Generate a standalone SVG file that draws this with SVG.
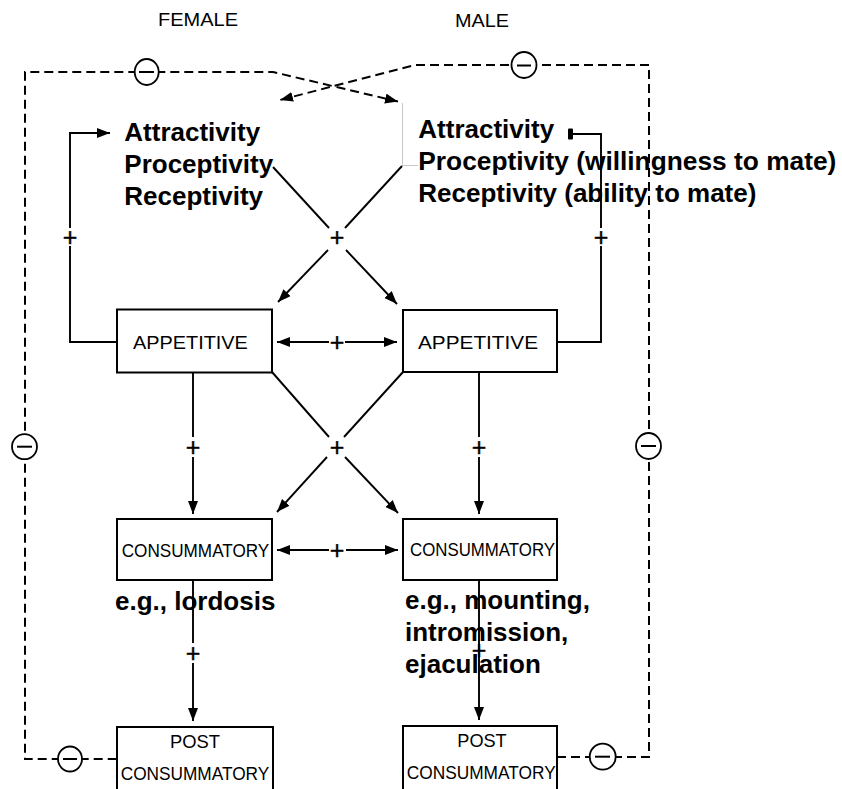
<svg xmlns="http://www.w3.org/2000/svg" width="842" height="789" viewBox="0 0 842 789">
<style>
.bg{fill:#fff}
.box{fill:#fff;stroke:#000;stroke-width:2}
.ln{fill:none;stroke:#000;stroke-width:1.9}
.dash{fill:none;stroke:#000;stroke-width:2;stroke-dasharray:9 5}
.neg{fill:#fff;stroke:#000;stroke-width:1.8}
.bar{stroke:#000;stroke-width:2}
.hdr{font-family:"Liberation Sans",Arial,sans-serif;font-size:19px;fill:#000}
.lbl{font-family:"Liberation Sans",Arial,sans-serif;font-size:17.5px;fill:#000;text-anchor:middle}
.big{font-family:"Liberation Sans",Arial,sans-serif;font-size:26px;font-weight:bold;fill:#000}
.pl{font-family:"Liberation Sans",Arial,sans-serif;font-size:25px;fill:#000;text-anchor:middle;stroke:#000;stroke-width:0.4}
.ghost{fill:none;stroke:#c8c8c8;stroke-width:1}
</style>
<defs>
<marker id="ah" markerUnits="userSpaceOnUse" markerWidth="14" markerHeight="11" refX="13" refY="5" orient="auto-start-reverse">
<path d="M0,0 L13,5 L0,10 z" fill="#000"/>
</marker>
</defs>
<rect class="bg" x="0" y="0" width="842" height="789"/>

<text class="hdr" x="158" y="26" textLength="80" lengthAdjust="spacingAndGlyphs">FEMALE</text>
<text class="hdr" x="455" y="27" textLength="54" lengthAdjust="spacingAndGlyphs">MALE</text>

<g id="connectors">
  <!-- dashed negative feedback loops -->
  <path class="dash" d="M116.7,759 H25 V72 H273 L398,101.5" marker-end="url(#ah)"/>
  <path class="dash" d="M557,757 H649 V65 H415 L280,100" marker-end="url(#ah)"/>
  <!-- faint artifact border -->
  <path class="ghost" d="M402.5,103 V165.5 H418"/>
  <!-- positive feedback to traits -->
  <path class="ln" d="M117,342 H70 V246 M70,228 V133 H110" marker-end="url(#ah)"/>
  <path class="ln" d="M557,342 H601 V246 M601,228 V134 H573"/>
  <rect x="568" y="128.5" width="5" height="11" rx="1" fill="#000"/>
  <!-- upper X -->
  <path class="ln" d="M273,167 L329,228"/>
  <path class="ln" d="M346,250 L397,304" marker-end="url(#ah)"/>
  <path class="ln" d="M402,166 L345,228"/>
  <path class="ln" d="M328,250 L278,302" marker-end="url(#ah)"/>
  <!-- appetitive double arrow -->
  <path class="ln" d="M329,342 H277" marker-end="url(#ah)"/>
  <path class="ln" d="M345,342 H397" marker-end="url(#ah)"/>
  <!-- appetitive to consummatory -->
  <path class="ln" d="M193,372 V437"/>
  <path class="ln" d="M193,457 V514" marker-end="url(#ah)"/>
  <path class="ln" d="M479,372 V437"/>
  <path class="ln" d="M479,457 V514" marker-end="url(#ah)"/>
  <!-- lower X -->
  <path class="ln" d="M272,372 L329,437"/>
  <path class="ln" d="M345,457 L398,513" marker-end="url(#ah)"/>
  <path class="ln" d="M403,372 L344,437"/>
  <path class="ln" d="M327,457 L277,512" marker-end="url(#ah)"/>
  <!-- consummatory double arrow -->
  <path class="ln" d="M329,550 H277" marker-end="url(#ah)"/>
  <path class="ln" d="M346,550 H398" marker-end="url(#ah)"/>
  <!-- consummatory to post -->
  <path class="ln" d="M193,580 V643"/>
  <path class="ln" d="M193,663 V721" marker-end="url(#ah)"/>
  <path class="ln" d="M479,580 V720" marker-end="url(#ah)"/>
  <!-- plus signs -->
  <text class="pl" x="70" y="245.5">+</text>
  <text class="pl" x="601" y="245.5">+</text>
  <text class="pl" x="337" y="245.5">+</text>
  <text class="pl" x="337" y="350.5">+</text>
  <text class="pl" x="193" y="455.5">+</text>
  <text class="pl" x="479" y="455.5">+</text>
  <text class="pl" x="337" y="455.5">+</text>
  <text class="pl" x="337" y="558.5">+</text>
  <text class="pl" x="193" y="661.5">+</text>
  <text class="pl" x="479" y="658.5">+</text>
  <!-- negative signs -->
  <g id="neg-top-f"><ellipse class="neg" cx="146.7" cy="72" rx="12" ry="13"/><line class="bar" x1="139" y1="72" x2="154" y2="72"/></g>
  <g id="neg-top-m"><ellipse class="neg" cx="524" cy="65" rx="12.5" ry="13"/><line class="bar" x1="517" y1="65.5" x2="531" y2="65.5"/></g>
  <g id="neg-left"><ellipse class="neg" cx="24.5" cy="446.7" rx="12.5" ry="12.5"/><line class="bar" x1="17" y1="446.7" x2="32" y2="446.7"/></g>
  <g id="neg-right"><ellipse class="neg" cx="648.5" cy="446" rx="12.5" ry="13"/><line class="bar" x1="641" y1="446" x2="656" y2="446"/></g>
  <g id="neg-bot-l"><ellipse class="neg" cx="70" cy="759" rx="12" ry="12.5"/><line class="bar" x1="63" y1="759" x2="77" y2="759"/></g>
  <g id="neg-bot-r"><ellipse class="neg" cx="602.7" cy="756.7" rx="13" ry="13"/><line class="bar" x1="595" y1="756.7" x2="610" y2="756.7"/></g>
</g>

<g id="female-traits">
  <text class="big" x="124.3" y="141">Attractivity</text>
  <text class="big" x="124.3" y="173">Proceptivity</text>
  <text class="big" x="124.3" y="204.5">Receptivity</text>
</g>
<g id="male-traits">
  <text class="big" x="418.3" y="138">Attractivity</text>
  <text class="big" x="418.3" y="170" textLength="418" lengthAdjust="spacingAndGlyphs">Proceptivity (willingness to mate)</text>
  <text class="big" x="418.3" y="202">Receptivity (ability to mate)</text>
</g>

<g id="appetitive-f">
  <rect class="box" x="117" y="309.5" width="155" height="63"/>
  <text class="lbl" x="190.4" y="349.3" textLength="115" lengthAdjust="spacingAndGlyphs">APPETITIVE</text>
</g>
<g id="appetitive-m">
  <rect class="box" x="403" y="310" width="154" height="62"/>
  <text class="lbl" x="478" y="349.3" textLength="120" lengthAdjust="spacingAndGlyphs">APPETITIVE</text>
</g>
<g id="consummatory-f">
  <rect class="box" x="117" y="519" width="155" height="61"/>
  <text class="lbl" x="195.5" y="556.5" textLength="147.6" lengthAdjust="spacingAndGlyphs">CONSUMMATORY</text>
</g>
<g id="consummatory-m">
  <rect class="box" x="403" y="519" width="154" height="61"/>
  <text class="lbl" x="482.5" y="555.5" textLength="145" lengthAdjust="spacingAndGlyphs">CONSUMMATORY</text>
</g>
<g id="post-f">
  <rect class="box" x="117" y="727" width="156" height="80"/>
  <text class="lbl" x="195" y="748.3" textLength="50" lengthAdjust="spacingAndGlyphs">POST</text>
  <text class="lbl" x="195" y="780" textLength="148.6" lengthAdjust="spacingAndGlyphs">CONSUMMATORY</text>
</g>
<g id="post-m">
  <rect class="box" x="403" y="726" width="154" height="80"/>
  <text class="lbl" x="482" y="746.7" textLength="49.4" lengthAdjust="spacingAndGlyphs">POST</text>
  <text class="lbl" x="481.2" y="779.3" textLength="149" lengthAdjust="spacingAndGlyphs">CONSUMMATORY</text>
</g>

<g id="examples">
  <text class="big" x="115" y="610">e.g., lordosis</text>
  <text class="big" x="405" y="609">e.g., mounting,</text>
  <text class="big" x="405" y="641">intromission,</text>
  <text class="big" x="405" y="673">ejaculation</text>
</g>
</svg>
